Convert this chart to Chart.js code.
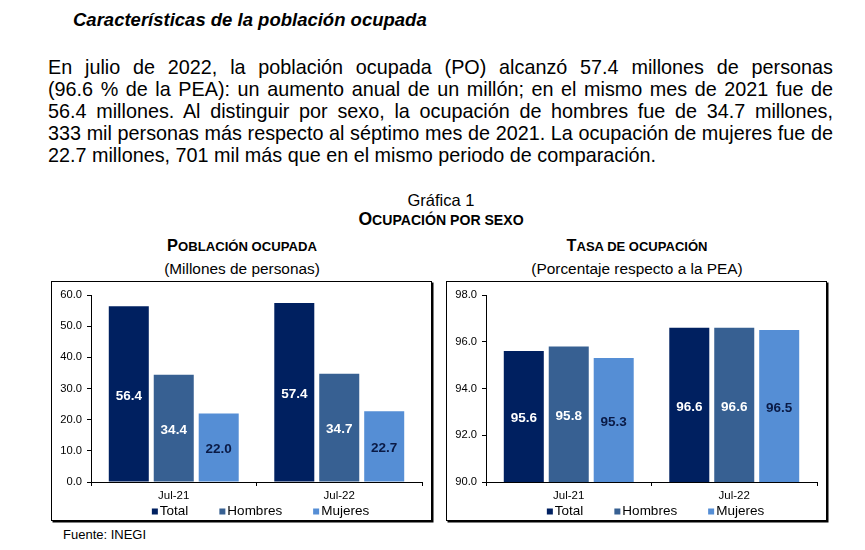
<!DOCTYPE html>
<html>
<head>
<meta charset="utf-8">
<script src="https://cdn.jsdelivr.net/npm/chart.js@4.4.1/dist/chart.umd.min.js"></script>
<style>
  html, body { margin: 0; padding: 0; background: #fff; }
  body { width: 865px; height: 550px; position: relative; overflow: hidden;
         font-family: "Liberation Sans", Arial, sans-serif; color: #000; }
  .abs { position: absolute; white-space: nowrap; }
  #heading { left: 73px; top: 9px; font-size: 18.5px; line-height: 22px; font-weight: bold; font-style: italic; }
  .pline { position: absolute; left: 48px; width: 785px; font-size: 19.8px; line-height: 22px;
           text-align: justify; text-align-last: justify; white-space: nowrap; }
  .pline.last { text-align-last: left; }
  .center { text-align: center; }
  .sc { font-size: 80%; }
  .box { position: absolute; top: 281px; width: 379px; height: 238px;
         border: 1px solid #000; box-shadow: 1.5px 1.5px 0 #000; }
  .box canvas { position: absolute; left: 0; top: 0; }
</style>
</head>
<body>
<div id="heading" class="abs">Características de la población ocupada</div>
<div class="pline" style="top:56px">En julio de 2022, la población ocupada (PO) alcanzó 57.4 millones de personas</div>
<div class="pline" style="top:78px">(96.6 % de la PEA): un aumento anual de un millón; en el mismo mes de 2021 fue de</div>
<div class="pline" style="top:100px">56.4 millones. Al distinguir por sexo, la ocupación de hombres fue de 34.7 millones,</div>
<div class="pline" style="top:122px">333 mil personas más respecto al séptimo mes de 2021. La ocupación de mujeres fue de</div>
<div class="pline last" style="top:144px">22.7 millones, 701 mil más que en el mismo periodo de comparación.</div>

<div class="abs center" style="left:341px;width:200px;top:190px;font-size:16.5px;line-height:20px">Gráfica 1</div>
<div class="abs center" style="left:291px;width:300px;top:209px;font-size:17.6px;line-height:20px;font-weight:bold">O<span class="sc">CUPACIÓN POR SEXO</span></div>

<div class="abs center" style="left:92px;width:300px;top:235px;font-size:16.4px;line-height:20px;font-weight:bold">P<span class="sc">OBLACIÓN OCUPADA</span></div>
<div class="abs center" style="left:92px;width:300px;top:259px;font-size:15.4px;line-height:20px">(Millones de personas)</div>
<div class="abs center" style="left:487px;width:300px;top:235px;font-size:16.3px;line-height:20px;font-weight:bold">T<span class="sc">ASA DE OCUPACIÓN</span></div>
<div class="abs center" style="left:487px;width:300px;top:259px;font-size:15.4px;line-height:20px">(Porcentaje respecto a la PEA)</div>

<div class="box" style="left:51px"><canvas id="chartPO"></canvas></div>
<div class="box" style="left:446px"><canvas id="chartTasa"></canvas></div>

<div class="abs" style="left:63px;top:527px;font-size:13px;line-height:16px">Fuente: INEGI</div>

<script>
// datos
const periodos = ["Jul-21", "Jul-22"];
const series = ["Total", "Hombres", "Mujeres"];
const poTotal = [56.4, 57.4];
const poHombres = [34.4, 34.7];
const poMujeres = [22.0, 22.7];
const tasaTotal = [95.6, 96.6];
const tasaHombres = [95.8, 96.6];
const tasaMujeres = [95.3, 96.5];

const colores = ['#002060', '#376092', '#558ED5'];
const coloresEtiqueta = ['#ffffff', '#ffffff', '#0A1A45'];
const FONT = '"Liberation Sans", Arial, sans-serif';

// etiquetas dentro de las barras (centradas en la parte visible)
const etiquetasBarras = {
  id: 'etiquetasBarras',
  afterDatasetsDraw(chart) {
    const ctx = chart.ctx;
    const fondo = chart.chartArea.bottom;
    ctx.save();
    ctx.font = 'bold 13.5px ' + FONT;
    ctx.textAlign = 'center';
    ctx.textBaseline = 'middle';
    chart.data.datasets.forEach((ds, i) => {
      chart.getDatasetMeta(i).data.forEach((bar, j) => {
        ctx.fillStyle = coloresEtiqueta[i];
        ctx.fillText(ds.data[j].toFixed(1), bar.x, (bar.y + Math.min(bar.base, fondo)) / 2 + 2);
      });
    });
    ctx.restore();
  }
};

// leyenda tipo excel (cuadro pequeño pegado al texto)
const leyenda = {
  id: 'leyenda',
  afterDraw(chart) {
    const ctx = chart.ctx;
    const area = chart.chartArea;
    ctx.save();
    ctx.font = '13.5px ' + FONT;
    ctx.textBaseline = 'middle';
    const box = 6, gapTxt = 2, gapItem = 31;
    const widths = chart.data.datasets.map(ds => box + gapTxt + ctx.measureText(ds.label).width);
    const total = widths.reduce((a, b) => a + b, 0) + gapItem * (widths.length - 1);
    let x = (area.left + area.right) / 2 + 4 - total / 2;
    const y = area.bottom + 29.5;
    chart.data.datasets.forEach((ds, i) => {
      ctx.fillStyle = ds.backgroundColor;
      ctx.fillRect(x, y - box / 2, box, box);
      ctx.fillStyle = '#000';
      ctx.fillText(ds.label, x + box + gapTxt, y);
      x += widths[i] + gapItem;
    });
    ctx.restore();
  }
};

function crearGrafica(id, datos, min, max, paso) {
  const ctx = document.getElementById(id).getContext('2d');
  return new Chart(ctx, {
    type: 'bar',
    data: {
      labels: periodos,
      datasets: series.map((s, i) => ({
        label: s,
        data: datos[i],
        backgroundColor: colores[i],
        borderWidth: 0,
        categoryPercentage: 0.815,
        barPercentage: 0.89
      }))
    },
    options: {
      responsive: true,
      maintainAspectRatio: false,
      animation: false,
      layout: { padding: { left: 8, right: 9, top: 13, bottom: 20 } },
      plugins: {
        legend: { display: false },
        tooltip: { enabled: false }
      },
      scales: {
        x: {
          grid: { display: true, drawOnChartArea: false, drawTicks: true, tickLength: 4, color: '#000', offset: true },
          border: { display: true, color: '#000', width: 1 },
          ticks: { color: '#000', font: { family: FONT, size: 11.5 }, padding: 3, maxRotation: 0 },
          afterFit(scale) { scale.height = 18; }
        },
        y: {
          min: min,
          max: max,
          grid: { display: true, drawOnChartArea: false, drawTicks: true, tickLength: 4, color: '#000' },
          border: { display: true, color: '#000', width: 1 },
          ticks: {
            stepSize: paso,
            color: '#000',
            padding: 5,
            font: { family: FONT, size: 11.2 },
            callback: v => Number(v).toFixed(1)
          },
          afterFit(scale) { scale.width = 31; }
        }
      }
    },
    plugins: [etiquetasBarras, leyenda]
  });
}

crearGrafica('chartPO', [poTotal, poHombres, poMujeres], 0, 60, 10);
crearGrafica('chartTasa', [tasaTotal, tasaHombres, tasaMujeres], 90, 98, 2);
</script>
</body>
</html>
